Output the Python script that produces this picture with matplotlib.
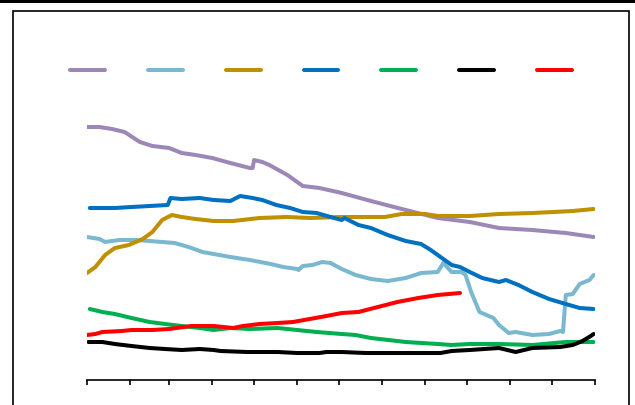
import matplotlib
matplotlib.use("Agg")
import matplotlib.pyplot as plt
from matplotlib.patches import Rectangle
from matplotlib.lines import Line2D

# month boundaries (day of year) used for the x ticks
month_starts = [0, 31, 59, 90, 120, 151, 181, 212, 243, 273, 304, 334, 365]

# series: day of year, value (arbitrary units, no y axis shown)
purple_days = [0, 9, 18, 27, 38, 47, 59, 68, 78, 90, 103, 117, 119, 120, 126, 131, 144, 155, 167, 180, 183,
               204, 229, 252, 275, 296, 320, 344, 364]
purple_vals = [253, 253, 251, 248, 238, 234, 232, 227, 225, 222, 217, 212, 212, 220, 218, 215, 205, 194, 192, 188, 187,
               179, 170, 162, 158, 152, 150, 147, 143]

ltblue_days = [0, 9, 13, 23, 35, 45, 54, 63, 73, 83, 91, 103, 117, 132, 141, 151, 152, 155, 162, 169, 175, 183,
               193, 204, 216, 229, 240, 252, 256, 262, 269, 272, 276, 282, 292, 296, 303, 308, 320, 332, 340, 342,
               344, 349, 354, 361, 364]
ltblue_vals = [143, 141, 138, 140, 140, 139, 138, 137, 133, 128, 126, 123, 120, 116, 113, 111, 110, 114, 115, 118, 117, 111,
               105, 101, 99, 102, 107, 108, 117, 108, 108, 105, 88, 68, 62, 55, 47, 48, 45, 46, 49, 48,
               85, 86, 96, 100, 105]

gold_days = [0, 6, 13, 20, 30, 40, 47, 54, 61, 68, 78, 91, 105, 124, 144, 160, 183, 214, 226, 243, 252, 275,
             296, 320, 335, 349, 364]
gold_vals = [107, 113, 125, 132, 135, 141, 148, 160, 165, 163, 161, 159, 159, 162, 163, 162, 163, 163, 166, 166, 164, 164,
             166, 167, 168, 169, 171]

blue_days = [2, 20, 32, 45, 58, 60, 68, 81, 91, 103, 110, 119, 126, 136, 146, 155, 165, 175, 183, 185, 195, 204,
             216, 229, 240, 247, 254, 262, 268, 275, 284, 296, 301, 310, 320, 332, 344, 354, 364]
blue_vals = [172, 172, 173, 174, 175, 182, 181, 182, 180, 179, 184, 182, 180, 175, 172, 168, 167, 163, 160, 162, 155, 152,
             145, 139, 136, 130, 123, 115, 113, 108, 102, 98, 100, 95, 88, 81, 76, 72, 71]

green_days = [2, 11, 20, 32, 45, 56, 68, 81, 91, 103, 117, 137, 151, 165, 183, 193, 204, 229, 252, 262, 275, 296,
              320, 344, 364]
green_vals = [71, 68, 66, 62, 58, 56, 54, 52, 50, 52, 51, 52, 50, 48, 46, 45, 42, 38, 36, 35, 36, 36,
              35, 38, 38]

black_days = [1, 11, 20, 32, 45, 56, 68, 81, 91, 96, 115, 137, 151, 167, 172, 183, 200, 254, 262, 275, 296, 308,
              320, 340, 349, 356, 362, 364]
black_vals = [38, 38, 36, 34, 32, 31, 30, 31, 30, 29, 28, 28, 27, 27, 28, 28, 27, 27, 29, 30, 32, 28,
              32, 33, 35, 39, 44, 46]

red_days = [0, 6, 11, 25, 32, 47, 59, 75, 91, 105, 112, 124, 137, 148, 160, 172, 183, 195, 209, 223, 238, 252, 268]
red_vals = [45, 46, 48, 49, 50, 50, 51, 54, 54, 52, 54, 56, 57, 58, 61, 64, 67, 68, 73, 78, 82, 85, 87]

series = [
    (purple_days, purple_vals, "#9C88B7"),
    (ltblue_days, ltblue_vals, "#7AB8D0"),
    (gold_days, gold_vals, "#BF9000"),
    (blue_days, blue_vals, "#0070C0"),
    (green_days, green_vals, "#00B050"),
    (black_days, black_vals, "#000000"),
    (red_days, red_vals, "#FF0000"),
]

fig = plt.figure(figsize=(6.35, 4.05), dpi=100)
W, H = 635.0, 405.0
ax = fig.add_axes([87 / W, 25 / H, 508 / W, 270 / H])

for days, vals, col in series:
    ax.plot(days, vals, color=col, lw=2.9, solid_joinstyle="round", solid_capstyle="round")

ax.set_xlim(0, 365)
ax.set_ylim(0, 270)
ax.set_xticks(month_starts)
ax.set_xticklabels([])
ax.set_yticks([])
for s in ["left", "top", "right"]:
    ax.spines[s].set_visible(False)
ax.spines["bottom"].set_linewidth(1.2)
ax.tick_params(axis="x", direction="out", length=3.8, width=1.2, color="black")
ax.patch.set_alpha(0)

# legend: coloured lines only, no text
handles = [Line2D([], [], color=c, lw=2.9, solid_capstyle="round") for _, _, c in series]
fig.legend(handles, [""] * len(handles), loc="center", bbox_to_anchor=(321 / W, 1 - 71 / H),
           ncol=7, frameon=False, handlelength=2.5, handletextpad=0, columnspacing=3.1)

# outer frame of the chart area and top border
fig.add_artist(Rectangle((13 / W, -0.05), 616 / W, 1.05 - 11 / H, transform=fig.transFigure,
                         fill=False, ec="black", lw=1.2))
fig.add_artist(Rectangle((0, 1 - 2.5 / H), 1, 2.5 / H, transform=fig.transFigure,
                         fc="black", ec="none"))

fig.savefig("out.png", dpi=100)
